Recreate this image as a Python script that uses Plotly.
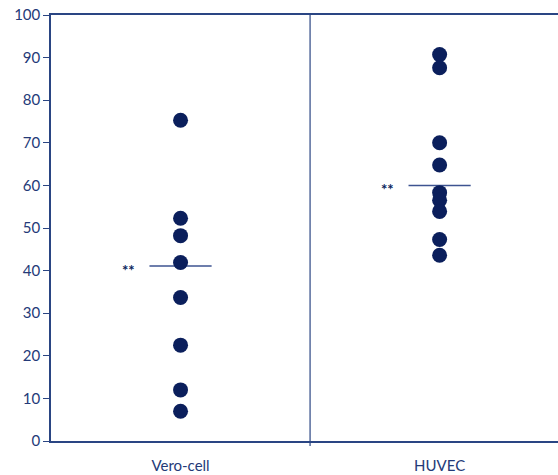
import plotly.graph_objects as go

# Cell types on the x axis
categories = ["Vero-cell", "HUVEC"]

# Individual measurements per cell type
vero_values = [75.3, 52.3, 48.2, 41.9, 33.7, 22.5, 12.0, 7.0]
huvec_values = [90.7, 87.6, 70.0, 64.8, 58.3, 56.5, 53.9, 47.3, 43.6]

# Summary line value per group and significance mark
summary_values = [41.1, 60.0]
significance = ["**", "**"]

y_ticks = [0, 10, 20, 30, 40, 50, 60, 70, 80, 90, 100]

navy = "#0b1f5c"
axis_col = "#2a4583"
text_col = "#243a78"

fig = go.Figure()

for cat, vals in zip(categories, [vero_values, huvec_values]):
    fig.add_trace(go.Scatter(
        x=[cat] * len(vals), y=vals, mode="markers",
        marker=dict(size=15, color=navy, line=dict(width=0)),
        showlegend=False, hoverinfo="y",
    ))

# Summary bars and significance labels
for i, (val, sig) in enumerate(zip(summary_values, significance)):
    fig.add_shape(type="line", xref="x", yref="y",
                  x0=i - 0.12, x1=i + 0.12, y0=val, y1=val,
                  line=dict(color="#3d5391", width=1.5), layer="below")
    fig.add_annotation(x=i - 0.2, y=val, xref="x", yref="y",
                       text="<b>" + sig + "</b>",
                       showarrow=False, xanchor="center", yanchor="middle",
                       yshift=-4,
                       font=dict(size=15, color=navy, family="Lato"))

# Divider between the two groups
fig.add_shape(type="line", xref="x", yref="paper",
              x0=0.5, x1=0.5, y0=-0.012, y1=1,
              line=dict(color=axis_col, width=1.2))

fig.update_layout(
    width=558, height=475,
    margin=dict(l=51, r=0, t=15, b=34),
    plot_bgcolor="white", paper_bgcolor="white",
    font=dict(family="Lato", color=text_col, size=14),
)
fig.update_xaxes(
    type="category", categoryorder="array", categoryarray=categories,
    range=[-0.5, 1.457],
    showline=True, linecolor=axis_col, linewidth=1.5, mirror=True,
    showgrid=False, zeroline=False, ticks="", ticklen=0,
    ticklabelstandoff=10,
    tickfont=dict(size=15, color=text_col),
)
fig.update_yaxes(
    range=[0, 100], tickvals=y_ticks,
    showline=True, linecolor=axis_col, linewidth=1.5,
    showgrid=False, zeroline=False,
    ticks="outside", ticklen=6, tickwidth=1.2, tickcolor=axis_col,
    tickfont=dict(size=15, color=text_col),
)

fig.write_html("out.html")
